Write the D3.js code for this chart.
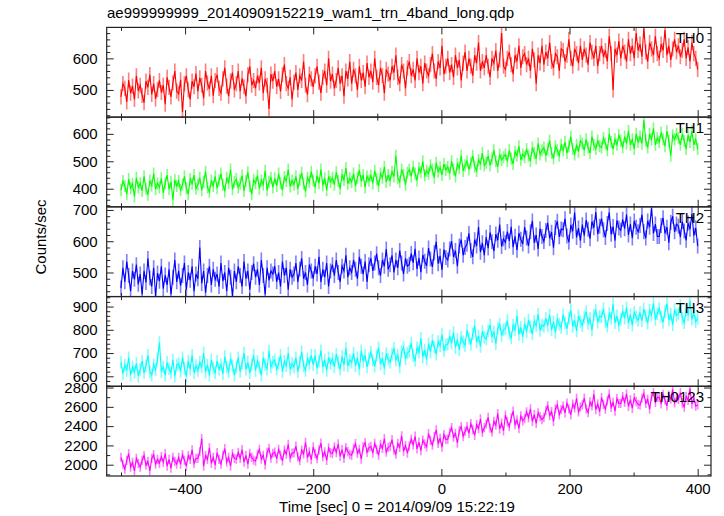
<!DOCTYPE html>
<html><head><meta charset="utf-8">
<script src="https://cdn.jsdelivr.net/npm/d3@7"></script>
<style>
body{margin:0;background:#fff}
svg{display:block}
text{font-family:"Liberation Sans",Arial,Helvetica,sans-serif;fill:#000}
</style>
</head><body><svg id="c" width="724" height="516"></svg>
<script>
const title = "ae999999999_20140909152219_wam1_trn_4band_long.qdp";
const xLabel = "Time [sec] 0 = 2014/09/09 15:22:19";
const yLabel = "Counts/sec";
const seriesNames = ["TH0", "TH1", "TH2", "TH3", "TH0123"];
const seriesColors = ["#ff0000", "#00ff00", "#0000ff", "#00ffff", "#ff00ff"];
const tStart = -500, tStep = 3;

const th0 = [
 478,520,505,462,531,490,512,470,545,497,
 515,483,460,528,508,549,486,520,472,501,
 530,492,515,455,540,508,478,522,560,496,
 488,532,430,519,545,500,470,528,510,552,
 495,538,515,474,560,522,503,545,482,530,
 548,505,490,535,570,512,480,528,555,500,
 520,560,495,537,510,480,548,575,515,530,
 505,545,522,570,490,535,515,440,550,528,
 560,510,535,495,548,580,520,505,540,470,
 525,555,500,545,530,590,515,485,550,535,
 510,545,575,525,490,540,560,515,600,528,
 550,505,530,570,520,545,480,560,535,590,
 520,565,545,500,575,530,555,510,585,540,
 560,525,600,540,515,570,545,490,565,550,
 530,575,555,610,540,520,580,560,505,570,
 590,545,565,530,600,555,575,520,585,560,
 545,580,615,560,535,590,570,640,550,575,
 600,555,580,540,610,570,595,530,585,620,
 560,600,575,545,610,585,650,560,590,570,
 610,575,540,600,585,625,560,595,680,575,
 565,600,620,580,550,610,590,640,570,605,
 615,580,600,560,630,595,520,610,585,640,
 580,620,600,650,590,570,615,605,560,630,
 625,590,610,660,600,575,630,615,585,640,
 595,630,610,580,650,620,600,640,575,615,
 640,605,625,590,670,615,500,630,610,655,
 600,640,620,590,660,615,640,600,680,625,
 645,605,695,620,590,650,630,610,670,615,
 600,645,625,690,610,640,595,630,660,620,
 640,605,625,660,600,635,590,650,615,600,
 565];
const th1 = [
 395,428,410,380,435,402,418,372,440,405,
 420,392,445,400,378,430,412,455,398,420,
 405,438,385,420,450,398,425,360,432,410,
 428,395,415,445,402,380,435,418,450,400,
 415,440,395,425,462,405,388,430,410,445,
 402,430,455,415,390,440,420,470,398,425,
 435,405,418,448,392,428,460,410,380,432,
 420,448,400,430,415,465,395,425,440,405,
 438,410,455,420,395,442,428,470,408,430,
 415,445,400,432,458,418,390,440,425,462,
 430,405,448,420,470,412,438,395,445,425,
 440,415,460,428,400,450,432,475,418,438,
 425,455,410,440,468,428,450,405,445,430,
 448,420,465,435,410,455,440,480,425,450,
 430,462,445,520,440,425,470,450,415,458,
 470,445,480,455,430,475,460,500,448,465,
 455,485,470,440,495,462,478,450,490,468,
 480,455,500,470,445,490,475,520,465,485,
 500,470,495,520,480,465,505,490,530,485,
 495,520,485,510,540,500,480,525,505,515,
 525,500,540,510,490,535,520,555,505,525,
 515,545,520,500,550,530,510,565,525,540,
 550,520,545,575,530,510,555,540,520,560,
 540,570,530,555,590,545,525,560,535,575,
 565,540,580,550,530,590,560,545,575,555,
 550,585,565,540,600,570,545,580,560,595,
 575,550,590,565,610,560,580,545,600,570,
 590,565,650,575,550,600,580,620,560,585,
 570,605,580,555,610,575,520,595,580,600,
 585,560,600,575,545,595,570,610,560,580,
 545];
const th2 = [
 450,515,470,535,490,440,505,478,525,462,
 495,430,505,468,545,482,455,515,425,498,
 472,520,448,492,460,510,430,485,540,470,
 505,458,490,530,445,500,475,520,440,495,
 480,580,465,505,435,490,520,460,510,478,
 495,455,530,472,500,440,515,485,425,505,
 470,520,490,455,535,480,505,445,500,528,
 485,510,460,540,490,430,515,475,505,495,
 520,470,500,455,535,490,515,445,510,485,
 495,530,470,510,545,480,500,460,525,505,
 480,520,495,550,470,510,485,530,455,505,
 525,490,540,500,470,520,505,555,485,515,
 500,540,510,480,550,520,495,535,470,525,
 545,505,530,560,515,490,540,520,575,510,
 525,555,500,540,515,570,530,495,545,520,
 526,561,531,576,511,546,501,556,536,521,
 578,543,518,563,598,528,553,508,573,548,
 540,575,600,550,570,520,585,605,555,580,
 590,625,570,550,605,585,645,565,595,555,
 613,578,628,598,568,623,603,653,583,608,
 596,631,601,646,581,616,571,626,606,591,
 645,610,585,630,665,595,620,575,640,615,
 599,634,659,609,629,579,644,664,614,639,
 637,672,617,597,652,632,692,612,642,602,
 653,618,668,638,608,663,643,693,623,648,
 672,637,612,657,692,622,647,602,667,642,
 635,670,640,685,620,655,610,665,645,630,
 650,685,630,610,665,645,705,625,655,615,
 615,650,675,625,645,595,660,680,630,655,
 648,613,663,633,603,658,638,688,618,643,
 585];
const th3 = [
 660,612,648,625,680,605,640,618,655,600,
 630,665,615,645,690,620,605,650,628,675,
 745,620,640,605,660,632,615,670,600,648,
 655,620,680,635,600,665,630,690,615,645,
 625,660,640,700,618,650,605,670,635,615,
 665,630,650,610,685,640,620,675,645,605,
 640,680,620,655,700,630,660,615,650,690,
 625,665,640,605,680,650,630,710,640,660,
 670,630,655,690,620,665,645,700,630,655,
 640,680,620,660,705,645,625,675,655,690,
 650,690,635,665,710,640,670,625,680,655,
 675,640,695,660,630,685,650,720,645,670,
 660,700,645,680,630,710,665,690,640,675,
 703,668,643,688,723,653,678,633,698,673,
 660,695,720,670,690,640,705,725,675,700,
 708,743,688,668,723,703,763,683,713,673,
 740,705,755,725,695,750,730,780,710,735,
 738,773,743,788,723,758,713,768,748,733,
 798,763,738,783,818,748,773,728,793,768,
 760,795,820,770,790,740,805,825,775,800,
 805,840,785,765,820,800,860,780,810,770,
 827,792,842,812,782,837,817,867,797,822,
 814,849,819,864,799,834,789,844,824,809,
 865,830,805,850,885,815,840,795,860,835,
 818,853,878,828,848,798,863,883,833,858,
 855,890,835,815,870,850,910,830,860,820,
 845,880,850,895,830,865,820,875,855,840,
 874,839,889,859,829,884,864,914,844,869,
 892,857,832,877,912,842,867,822,887,862,
 870,905,850,830,885,865,925,845,875,835,
 850];
const th0123 = [
 2075,2005,1955,2045,2115,1975,2025,1935,2065,2015,
 1975,2045,2095,1995,2035,1935,2065,2105,2005,2055,
 2015,2085,2025,2115,1985,2055,1965,2075,2035,2005,
 2075,2005,2105,2045,1985,2095,2055,2155,2015,2065,
 2065,2135,2270,1985,2095,2055,2175,2015,2075,1995,
 2126,2056,2006,2096,2166,2026,2076,1986,2116,2066,
 2057,2127,2067,2157,2027,2097,2007,2117,2077,2047,
 2038,2108,2158,2058,2098,1998,2128,2168,2068,2118,
 2130,2060,2160,2100,2040,2150,2110,2210,2070,2120,
 2122,2192,2082,2042,2152,2112,2232,2072,2132,2052,
 2184,2114,2064,2154,2224,2084,2134,2044,2174,2124,
 2116,2186,2126,2216,2086,2156,2066,2176,2136,2106,
 2098,2168,2218,2118,2158,2058,2188,2228,2128,2178,
 2190,2120,2220,2160,2100,2210,2170,2270,2130,2180,
 2190,2260,2150,2110,2220,2180,2300,2140,2200,2120,
 2195,2265,2205,2295,2165,2235,2145,2255,2215,2185,
 2322,2252,2202,2292,2362,2222,2272,2182,2312,2262,
 2265,2335,2385,2285,2325,2225,2355,2395,2295,2345,
 2395,2325,2425,2365,2305,2415,2375,2475,2335,2385,
 2420,2490,2380,2340,2450,2410,2530,2370,2430,2350,
 2515,2445,2395,2485,2555,2415,2465,2375,2505,2455,
 2478,2548,2488,2578,2448,2518,2428,2538,2498,2468,
 2490,2560,2610,2510,2550,2450,2580,2620,2520,2570,
 2608,2538,2638,2578,2518,2628,2588,2688,2548,2598,
 2620,2690,2580,2540,2650,2610,2730,2570,2630,2550,
 2695,2625,2575,2665,2735,2595,2645,2555,2685,2635,
 2635,2705,2645,2735,2605,2675,2585,2695,2655,2625,
 2617,2687,2737,2637,2677,2577,2707,2747,2647,2697,
 2700,2630,2730,2670,2610,2720,2680,2780,2640,2690,
 2678,2748,2638,2598,2708,2668,2788,2628,2688,2608,
 2620];
const seriesValues = [th0, th1, th2, th3, th0123];
const seriesErrors = [24, 22, 24, 27, 48];
const yRanges = [[414, 698], [334, 661], [423, 710], [557, 943], [1883, 2813]];
const yMajorStep = [100, 100, 100, 100, 200];
const yMinorStep = [20, 20, 20, 20, 100];
const xRange = [-522.3, 420.8];
const xMajorTicks = [-400, -200, 0, 200, 400];
const xMinorTicks = [-500, -300, -100, 100, 300];

const svg = d3.select("#c");
const pLeft = 106.7, pRight = 711, pTop = 27.4, pBottom = 476;
const ph = (pBottom - pTop) / 5;
const frameColor = "#222";
const fontSize = 15;

const x = d3.scaleLinear().domain(xRange).range([pLeft, pRight]);
const binW = x(tStep) - x(0);

svg.append("text").attr("x", 107).attr("y", 18)
  .attr("font-size", fontSize).text(title);

function stepTicks(domain, step) {
  const a = Math.ceil(domain[0] / step) * step;
  return d3.range(a, domain[1] + 1e-9, step);
}

seriesValues.forEach((vals, i) => {
  const y0 = pTop + i * ph, y1 = y0 + ph;
  const y = d3.scaleLinear().domain(yRanges[i]).range([y1, y0]);
  const times = vals.map((v, k) => tStart + k * tStep);
  const clipId = "clip" + i;
  svg.append("clipPath").attr("id", clipId).append("rect")
    .attr("x", pLeft).attr("y", y0).attr("width", pRight - pLeft).attr("height", ph);
  const g = svg.append("g").attr("clip-path", `url(#${clipId})`);
  const e = seriesErrors[i];
  g.selectAll("line.err").data(vals).join("line").attr("class", "err")
    .attr("x1", (d, k) => x(times[k])).attr("x2", (d, k) => x(times[k]))
    .attr("y1", d => y(d - e)).attr("y2", d => y(d + e))
    .attr("stroke", seriesColors[i]).attr("stroke-opacity", 0.5).attr("stroke-width", binW * 0.85);
  const line = d3.line().x((d, k) => x(times[k])).y(d => y(d));
  g.append("path").datum(vals).attr("d", line)
    .attr("fill", "none").attr("stroke", seriesColors[i]).attr("stroke-width", 1.1);

  const majors = stepTicks(yRanges[i], yMajorStep[i]);
  const minors = stepTicks(yRanges[i], yMinorStep[i]).filter(v => !majors.some(m => Math.abs(m - v) < 1e-6));
  const style = sel => {
    sel.select(".domain").remove();
    sel.selectAll("line").attr("stroke", frameColor);
    sel.attr("font-size", fontSize).attr("font-family", null);
  };
  svg.append("g").attr("transform", `translate(${pLeft},0)`)
    .call(d3.axisLeft(y).tickValues(majors).tickSize(-7).tickPadding(9).tickFormat(d3.format("d"))).call(style);
  svg.append("g").attr("transform", `translate(${pLeft},0)`)
    .call(d3.axisLeft(y).tickValues(minors).tickSize(-3.5).tickFormat("")).call(style);
  svg.append("g").attr("transform", `translate(${pRight},0)`)
    .call(d3.axisRight(y).tickValues(majors).tickSize(-7).tickFormat("")).call(style);
  svg.append("g").attr("transform", `translate(${pRight},0)`)
    .call(d3.axisRight(y).tickValues(minors).tickSize(-3.5).tickFormat("")).call(style);
  svg.append("g").attr("transform", `translate(0,${y0})`)
    .call(d3.axisTop(x).tickValues(xMajorTicks).tickSize(-7).tickFormat("")).call(style);
  svg.append("g").attr("transform", `translate(0,${y0})`)
    .call(d3.axisTop(x).tickValues(xMinorTicks).tickSize(-3.5).tickFormat("")).call(style);
  const isLast = i === seriesValues.length - 1;
  svg.append("g").attr("transform", `translate(0,${y1})`)
    .call(d3.axisBottom(x).tickValues(xMajorTicks).tickSize(-7).tickPadding(7)
      .tickFormat(isLast ? d3.format("d") : "")).call(style);
  svg.append("g").attr("transform", `translate(0,${y1})`)
    .call(d3.axisBottom(x).tickValues(xMinorTicks).tickSize(-3.5).tickFormat("")).call(style);

  svg.append("rect").attr("x", pLeft).attr("y", y0).attr("width", pRight - pLeft).attr("height", ph)
    .attr("fill", "none").attr("stroke", frameColor).attr("stroke-width", 1.2);

  svg.append("text").attr("x", 704).attr("y", y0 + 16).attr("text-anchor", "end")
    .attr("font-size", fontSize).text(seriesNames[i]);
});

svg.append("text").attr("x", 397).attr("y", 512).attr("text-anchor", "middle")
  .attr("font-size", fontSize).text(xLabel);
svg.append("text").attr("transform", `translate(46,237) rotate(-90)`)
  .attr("text-anchor", "middle").attr("font-size", fontSize).text(yLabel);
</script>
</body></html>
